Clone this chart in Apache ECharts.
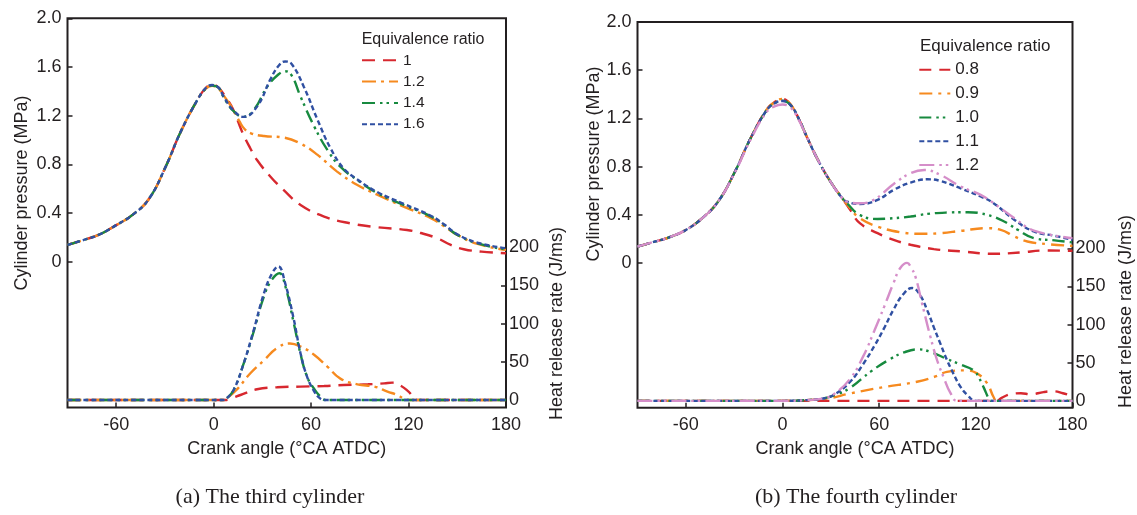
<!DOCTYPE html>
<html><head><meta charset="utf-8">
<script src="https://cdn.jsdelivr.net/npm/echarts@6/dist/echarts.min.js"></script>
<style>html,body{margin:0;padding:0;background:#fff}#c{width:1137px;height:515px}</style>
</head><body><div id="c"></div>
<script>
// ---------- tick labels ----------
const xTicks = [-60, 0, 60, 120, 180];
const pTicks = [0, 0.4, 0.8, 1.2, 1.6, 2.0];
const hTicks = [0, 50, 100, 150, 200];

// ---------- categories ----------
const ratiosA = ['1', '1.2', '1.4', '1.6'];
const ratiosB = ['0.8', '0.9', '1.0', '1.1', '1.2'];

// ---------- (a) third cylinder : cylinder pressure (MPa) ----------
const pressA_1 = [[-90,0.137],[-80,0.178],[-70,0.225],[-60,0.30],[-50,0.384],[-40,0.513],[-30,0.767],[-20,1.076],[-10,1.329],[-5,1.425],[-1,1.455],[3,1.43],[7,1.36],[12,1.25],[17.5,1.068],[22.6,0.93],[26.7,0.835],[35,0.698],[43,0.589],[53.5,0.466],[68,0.37],[84,0.315],[101,0.282],[119,0.26],[127.5,0.235],[138,0.19],[146,0.137],[154,0.102],[165,0.082],[180,0.069]];
const pressA_12 = [[-90,0.137],[-80,0.178],[-70,0.225],[-60,0.30],[-50,0.384],[-40,0.513],[-30,0.767],[-20,1.076],[-10,1.329],[-5,1.42],[-1,1.445],[3,1.42],[7,1.35],[12,1.25],[16,1.15],[19,1.09],[23,1.055],[31,1.032],[43,1.02],[53.5,0.97],[64,0.877],[76,0.74],[88.5,0.63],[101,0.548],[117,0.452],[134,0.356],[142,0.29],[150,0.22],[162.5,0.145],[180,0.096]];
const pressA_14 = [[-90,0.137],[-80,0.178],[-70,0.225],[-60,0.30],[-50,0.384],[-40,0.513],[-30,0.767],[-20,1.076],[-10,1.329],[-5,1.42],[-1,1.448],[3,1.43],[6,1.356],[12,1.24],[18.5,1.19],[24.7,1.246],[33,1.438],[40,1.54],[44,1.565],[48,1.53],[53.5,1.356],[62,1.109],[70,0.918],[78,0.78],[88.5,0.67],[101,0.562],[117,0.466],[134,0.37],[142,0.3],[150,0.22],[162.5,0.15],[180,0.1]];
const pressA_16 = [[-90,0.137],[-80,0.178],[-70,0.225],[-60,0.30],[-50,0.384],[-40,0.513],[-30,0.767],[-20,1.076],[-10,1.329],[-5,1.425],[-1,1.452],[3,1.43],[6,1.36],[12,1.245],[18.5,1.19],[26.7,1.274],[35,1.5],[40,1.61],[44,1.645],[48,1.625],[55.5,1.438],[64,1.164],[72,0.931],[80,0.767],[88.5,0.675],[101,0.57],[117,0.475],[134,0.375],[142,0.305],[150,0.225],[162.5,0.155],[180,0.11]];

// ---------- (a) third cylinder : heat release rate (J/ms) ----------
const heatA_1 = [[-90,0],[7,0],[12,3],[16.5,6.5],[26.7,14],[39,16.6],[53.5,17.5],[68,18.3],[80,19.6],[95,20.5],[105,21.8],[110,22.7],[115,19],[120,11],[125.5,0],[180,0]];
const heatA_12 = [[-90,0],[6,0],[8,2],[14,13],[22.6,35],[31,52],[39,68],[47,74],[53.5,70],[62,59],[70,43.6],[78,28],[88.5,20.5],[99,17.5],[107,11],[113,6.5],[117,2],[121,0],[180,0]];
const heatA_14 = [[-90,0],[6,0],[8,2],[12.3,13],[18.5,48],[24.7,90],[31,136],[36,158],[40.5,166],[44,150],[49.4,100],[53.5,60],[57.6,30],[61.7,15],[65,6],[69,0],[180,0]];
const heatA_16 = [[-90,0],[6,0],[8,2],[12.3,13],[18.5,48],[24.7,92],[31,140],[36,166],[39.8,175],[44,153],[49.4,105],[53.5,61],[57.6,30],[61.7,12],[65,3],[68,0],[180,0]];

// ---------- (b) fourth cylinder : cylinder pressure (MPa) ----------
const pressB_08 = [[-90,0.137],[-80,0.175],[-70,0.215],[-60,0.275],[-50,0.37],[-40,0.51],[-30,0.745],[-20,1.03],[-10,1.27],[-5,1.335],[0,1.362],[5,1.315],[10,1.2],[15,1.05],[23,0.83],[31,0.65],[37,0.54],[42,0.441],[48,0.331],[59,0.248],[69,0.193],[79.5,0.152],[94,0.116],[110.6,0.097],[131,0.077],[148,0.088],[162,0.104],[180,0.102]];
const pressB_09 = [[-90,0.137],[-80,0.175],[-70,0.215],[-60,0.275],[-50,0.37],[-40,0.51],[-30,0.745],[-20,1.03],[-10,1.27],[-5,1.335],[0,1.362],[5,1.315],[10,1.2],[15,1.05],[23,0.83],[31,0.65],[37,0.54],[42,0.455],[48,0.372],[59,0.303],[73,0.256],[86,0.243],[98,0.248],[110.6,0.267],[127,0.289],[135.5,0.276],[144,0.22],[152,0.179],[164.5,0.157],[180,0.143]];
const pressB_10 = [[-90,0.137],[-80,0.175],[-70,0.215],[-60,0.275],[-50,0.37],[-40,0.51],[-30,0.745],[-20,1.03],[-10,1.265],[-5,1.325],[0,1.348],[5,1.31],[10,1.2],[15,1.05],[23,0.83],[31,0.65],[37,0.54],[40,0.496],[48,0.4],[59,0.366],[69,0.372],[79.5,0.386],[90,0.408],[102,0.419],[115,0.422],[127,0.4],[137.6,0.345],[146,0.276],[156,0.207],[169,0.188],[180,0.171]];
const pressB_11 = [[-90,0.137],[-80,0.175],[-70,0.215],[-60,0.275],[-50,0.37],[-40,0.51],[-30,0.745],[-20,1.03],[-10,1.265],[-5,1.325],[0,1.345],[5,1.31],[10,1.2],[15,1.05],[23,0.83],[31,0.65],[37,0.54],[40,0.51],[48,0.49],[59,0.524],[69,0.607],[79.5,0.667],[90,0.695],[98,0.681],[110.6,0.62],[123,0.552],[131,0.497],[144,0.358],[156,0.262],[169,0.226],[180,0.193]];
const pressB_12 = [[-90,0.137],[-80,0.175],[-70,0.215],[-60,0.275],[-50,0.37],[-40,0.51],[-30,0.74],[-20,1.02],[-10,1.25],[-5,1.3],[0,1.315],[5,1.29],[10,1.19],[15,1.05],[23,0.83],[31,0.65],[37,0.54],[40,0.51],[48,0.496],[56.6,0.524],[69,0.656],[79.5,0.745],[88,0.772],[98,0.731],[110.6,0.635],[123,0.566],[131,0.497],[144,0.372],[156,0.27],[180,0.207]];

// ---------- (b) fourth cylinder : heat release rate (J/ms) ----------
const heatB_08 = [[-90,0],[133,0],[136,4],[142,9],[148,10],[154,8.5],[162,11.5],[168,12.5],[174,10],[180,6]];
const heatB_09 = [[-90,0],[0,0],[15,1],[28,3],[42,9.7],[62.8,18],[83.5,25],[95,32],[102,38],[113.5,40],[120.7,36],[127,23],[131,5],[133,0],[180,0]];
const heatB_10 = [[-90,0],[0,0],[15,1],[25,3],[33,8],[42,17],[54.5,38],[67,55],[76,64],[84.5,67.5],[92,64],[102,55],[110,48],[118.7,40],[122,30],[125,17],[128,3],[129.5,0],[180,0]];
const heatB_11 = [[-90,0],[0,0],[15,1],[25,3],[32,8],[42,25],[50,48],[57,72],[63,95],[69,120],[75,140],[80.5,148],[85,140],[90,118],[94,96],[98,75],[102,54],[106,36],[110,20],[114.6,8],[120,0],[180,0]];
const heatB_12 = [[-90,0],[0,0],[15,1],[25,3],[32,9],[42,29],[50,58],[57,92],[63,123],[69,155],[73,174],[77.3,181],[80,174],[82.5,163],[86.6,128],[91.8,84],[96,53],[100,31],[104.3,10],[108.4,0],[180,0]];

// ---------- styles ----------
const INK = '#231f20';
const FONT = 'Liberation Sans';
const RED = '#d7282f', ORANGE = '#f68a1f', GREEN = '#178a3f', BLUE = '#3050a2', PINK = '#d58ec9';

const styleA = {
  '1':   {color: RED,    dash: [13, 8]},
  '1.2': {color: ORANGE, dash: [14, 5, 3, 5]},
  '1.4': {color: GREEN,  dash: [13, 5, 2.5, 4, 2.5, 5]},
  '1.6': {color: BLUE,   dash: [5, 3]}
};
const styleB = {
  '0.8': {color: RED,    dash: [12, 8]},
  '0.9': {color: ORANGE, dash: [13, 6, 3, 6]},
  '1.0': {color: GREEN,  dash: [12, 5, 2.5, 4, 2.5, 5]},
  '1.1': {color: BLUE,   dash: [5, 3]},
  '1.2': {color: PINK,   dash: [15, 5, 2.5, 4, 2.5, 5]}
};
const pressA = {'1': pressA_1, '1.2': pressA_12, '1.4': pressA_14, '1.6': pressA_16};
const heatA  = {'1': heatA_1,  '1.2': heatA_12,  '1.4': heatA_14,  '1.6': heatA_16};
const pressB = {'0.8': pressB_08, '0.9': pressB_09, '1.0': pressB_10, '1.1': pressB_11, '1.2': pressB_12};
const heatB  = {'0.8': heatB_08,  '0.9': heatB_09,  '1.0': heatB_10,  '1.1': heatB_11,  '1.2': heatB_12};

function line(name, data, xIdx, yIdx, st, z) {
  return {
    type: 'line', name: name, data: data, xAxisIndex: xIdx, yAxisIndex: yIdx,
    symbol: 'none', showSymbol: false, smooth: 0.45,
    lineStyle: {color: st.color, width: 2.4, type: st.dash},
    itemStyle: {color: st.color}, z: z, animation: false
  };
}

const series = [];
ratiosA.forEach((r, i) => {
  series.push(line('A|' + r, pressA[r], 0, 0, styleA[r], 2 + i));
  series.push(line('A|' + r, heatA[r], 0, 1, styleA[r], 2 + i));
});
ratiosB.forEach((r, i) => {
  series.push(line('B|' + r, pressB[r], 1, 2, styleB[r], 2 + i));
  series.push(line('B|' + r, heatB[r], 1, 3, styleB[r], 2 + i));
});

function xAx(grid) {
  return {
    type: 'value', gridIndex: grid, min: -90, max: 180, position: 'bottom',
    axisLine: {show: false, onZero: false},
    axisTick: {show: true, inside: true, length: 5, customValues: xTicks, lineStyle: {color: INK, width: 1.5}},
    axisLabel: {customValues: xTicks, fontSize: 18, fontFamily: FONT, color: INK, margin: 8},
    splitLine: {show: false}
  };
}
function pAx(grid) {
  return {
    type: 'value', gridIndex: grid, position: 'left', min: -1.2, max: 2.0,
    axisLine: {show: false, onZero: false},
    axisTick: {show: true, inside: true, length: 5, customValues: pTicks, lineStyle: {color: INK, width: 1.5}},
    axisLabel: {customValues: pTicks, fontSize: 18, fontFamily: FONT, color: INK, margin: 6,
      formatter: v => (v === 0 ? '0' : v.toFixed(1))},
    splitLine: {show: false}
  };
}
function hAx(grid, mn, mx) {
  return {
    type: 'value', gridIndex: grid, position: 'right', min: mn, max: mx,
    axisLine: {show: false, onZero: false},
    axisTick: {show: true, inside: true, length: 5, customValues: hTicks, lineStyle: {color: INK, width: 1.5}},
    axisLabel: {customValues: hTicks, fontSize: 18, fontFamily: FONT, color: INK, margin: 3},
    splitLine: {show: false}
  };
}

function txt(t, x, y, size, rot, align, family) {
  return {
    type: 'text', x: x, y: y, rotation: rot || 0, silent: true,
    style: {text: t, fill: INK, fontSize: size, fontFamily: family || FONT,
      align: align || 'center', verticalAlign: 'middle', textAlign: align || 'center', textVerticalAlign: 'middle'}
  };
}

const legendBase = {
  orient: 'vertical', padding: 0, selectedMode: false, itemHeight: 14,
  itemStyle: {opacity: 0},
  formatter: n => n.split('|')[1]
};

const option = {
  animation: false,
  backgroundColor: '#ffffff',
  grid: [
    {left: 67.5, right: 631, top: 18.3, bottom: 107.4, show: true, borderColor: INK, borderWidth: 2, backgroundColor: 'transparent', containLabel: false, outerBoundsMode: 'none'},
    {left: 637.5, right: 64.5, top: 22, bottom: 107.3, show: true, borderColor: INK, borderWidth: 2, backgroundColor: 'transparent', containLabel: false, outerBoundsMode: 'none'}
  ],
  xAxis: [xAx(0), xAx(1)],
  yAxis: [pAx(0), hAx(0, -10, 500), pAx(1), hAx(1, -9, 497)],
  legend: [
    Object.assign({}, legendBase, {
      data: ratiosA.map(r => 'A|' + r), left: 361, top: 52.3, itemWidth: 36, itemGap: 5.3,
      textStyle: {fontSize: 15.5, fontFamily: FONT, color: INK}
    }),
    Object.assign({}, legendBase, {
      data: ratiosB.map(r => 'B|' + r), left: 918.3, top: 61.3, itemWidth: 31, itemGap: 6.8,
      textStyle: {fontSize: 17, fontFamily: FONT, color: INK}
    })
  ],
  graphic: [
    txt('Equivalence ratio', 361.7, 40, 16, 0, 'left'),
    txt('Equivalence ratio', 920, 46.7, 17, 0, 'left'),
    txt('Cylinder pressure (MPa)', 21.7, 193, 18, Math.PI / 2),
    txt('Heat release rate (J/ms)', 556.7, 323.5, 18, Math.PI / 2),
    txt('Crank angle (°CA ATDC)', 286.7, 449.3, 18, 0),
    txt('Cylinder pressure (MPa)', 594, 164, 18, Math.PI / 2),
    txt('Heat release rate (J/ms)', 1126, 311.5, 18, Math.PI / 2),
    txt('Crank angle (°CA ATDC)', 855, 449.3, 18, 0),
    txt('(a) The third cylinder', 270, 497, 22, 0, 'center', 'Liberation Serif'),
    txt('(b) The fourth cylinder', 856, 497, 22, 0, 'center', 'Liberation Serif')
  ],
  series: series
};

const chart = echarts.init(document.getElementById('c'), null, {renderer: 'canvas'});
chart.setOption(option);
</script>
</body></html>
